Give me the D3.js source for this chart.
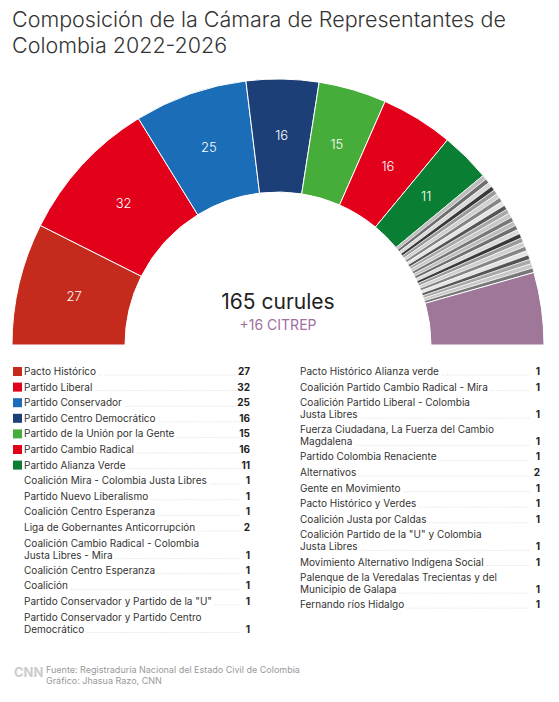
<!DOCTYPE html><html><head><meta charset="utf-8"><script src="https://cdn.jsdelivr.net/npm/d3@7"></script>
<style>body{margin:0;background:#fff}text{font-family:Inter,"Liberation Sans",sans-serif}</style></head><body><svg id="c" width="559" height="702"></svg><script>
const mainParties=["Pacto Histórico","Partido Liberal","Partido Conservador","Partido Centro Democrático","Partido de la Unión por la Gente","Partido Cambio Radical","Partido Alianza Verde"];
const mainSeats=[27,32,25,16,15,16,11];
const mainColors=["#c42b1c","#e2001a","#1a6db6","#1d3f78","#47ad3a","#e2001a","#0a7e33"];
const leftSmall=[["Coalición Mira - Colombia Justa Libres"],["Partido Nuevo Liberalismo"],["Coalición Centro Esperanza"],["Liga de Gobernantes Anticorrupción"],["Coalición Cambio Radical - Colombia","Justa Libres - Mira"],["Coalición Centro Esperanza"],["Coalición"],["Partido Conservador y Partido de la \"U\""],["Partido Conservador y Partido Centro","Democrático"]];
const leftSmallSeats=[1,1,1,2,1,1,1,1,1];
const rightSmall=[["Pacto Histórico Alianza verde"],["Coalición Partido Cambio Radical - Mira"],["Coalición Partido Liberal - Colombia","Justa Libres"],["Fuerza Ciudadana, La Fuerza del Cambio","Magdalena"],["Partido Colombia Renaciente"],["Alternativos"],["Gente en Movimiento"],["Pacto Histórico y Verdes"],["Coalición Justa por Caldas"],["Coalición Partido de la \"U\" y Colombia","Justa Libres"],["Movimiento Alternativo Indígena Social"],["Palenque de la Veredalas Trecientas y del","Municipio de Galapa"],["Fernando ríos Hidalgo"]];
const rightSmallSeats=[1,1,1,1,1,2,1,1,1,1,1,1,1];
const citrepSeats=16;
const greys=["#bdbdbd","#6f6f6f","#d9d9d9","#3a3a3a","#9a9a9a","#cfcfcf","#858585","#e4e4e4","#555","#a8a8a8","#c8c8c8","#777"];

const svg=d3.select("#c");
svg.append("text").attr("x",12).attr("y",27).attr("font-size",21.5).attr("fill","#333").attr("font-weight",300).text("Composición de la Cámara de Representantes de");
svg.append("text").attr("x",12).attr("y",53).attr("font-size",21.5).attr("fill","#333").attr("font-weight",300).text("Colombia 2022-2026");

const seats=[];
mainSeats.forEach((v,i)=>seats.push({v,color:mainColors[i],label:v}));
let gi=0;
[...leftSmallSeats,...rightSmallSeats].forEach(v=>{for(let k=0;k<v;k++)seats.push({v:1,color:greys[(gi++)%greys.length],label:null,small:true});});
seats.push({v:citrepSeats,color:"#9f7799",label:null});
const total=d3.sum(seats,d=>d.v);
const ang=d3.scaleLinear().domain([0,total]).range([-Math.PI/2,Math.PI/2]);
const cx=278,cy=345,ri=153,ro=266;
const arc=d3.arc().innerRadius(ri).outerRadius(ro);
let acc=0;
seats.forEach(d=>{d.startAngle=ang(acc);acc+=d.v;d.endAngle=ang(acc);});
const g=svg.append("g").attr("transform",`translate(${cx},${cy})`);
g.selectAll("path").data(seats).join("path").attr("d",arc).attr("fill",d=>d.color)
 .attr("stroke","#fff").attr("stroke-width",d=>d.small?0.6:1);
g.selectAll("text.l").data(seats.filter(d=>d.label)).join("text").attr("class","l")
 .attr("transform",d=>`translate(${arc.centroid(d)})`).attr("text-anchor","middle").attr("dy","0.35em")
 .attr("fill","#fff").attr("font-size",13).attr("font-weight",300).text(d=>d.label);
svg.append("text").attr("x",cx).attr("y",309).attr("text-anchor","middle").attr("font-size",21).attr("fill","#222").text(`${d3.sum(mainSeats)+d3.sum(leftSmallSeats)+d3.sum(rightSmallSeats)-1} curules`);
svg.append("text").attr("x",cx).attr("y",330).attr("text-anchor","middle").attr("font-size",14).attr("fill","#9f6fa0").text(`+${citrepSeats} CITREP`);

function row(x,xr,y,lines,val,color){
  const gg=svg.append("g");
  if(color) gg.append("rect").attr("x",x-11).attr("y",y-8).attr("width",9).attr("height",9).attr("fill",color);
  let last;
  lines.forEach((t,i)=>{last=gg.append("text").attr("x",x).attr("y",y+i*12).attr("font-size",10).attr("fill","#333").text(t);});
  const ly=y+(lines.length-1)*12;
  const w=last.node().getComputedTextLength();
  gg.append("line").attr("x1",x+w+3).attr("x2",xr-10).attr("y1",ly).attr("y2",ly).attr("stroke","#ddd").attr("stroke-dasharray","1,1.5");
  gg.append("text").attr("x",xr).attr("y",ly).attr("text-anchor","end").attr("font-size",10).attr("font-weight",700).attr("fill","#222").text(val);
  return lines.length;
}
let y=375;
mainParties.forEach((p,i)=>{row(24,250,y,[p],mainSeats[i],mainColors[i]);y+=15.6;});
leftSmall.forEach((p,i)=>{const n=row(24,250,y,p,leftSmallSeats[i]);y+=15.6+(n-1)*11.5;});
y=375;
rightSmall.forEach((p,i)=>{const n=row(300,540,y,p,rightSmallSeats[i]);y+=15.6+(n-1)*11.5;});

const f=svg.append("g");
f.append("text").attr("x",14).attr("y",677).attr("font-size",13).attr("font-weight",700).attr("fill","#ccc").text("CNN");
f.append("text").attr("x",46).attr("y",673).attr("font-size",9).attr("fill","#999").text("Fuente: Registraduría Nacional del Estado Civil de Colombia");
f.append("text").attr("x",46).attr("y",684).attr("font-size",9).attr("fill","#999").text("Gráfico: Jhasua Razo, CNN");
</script></body></html>
